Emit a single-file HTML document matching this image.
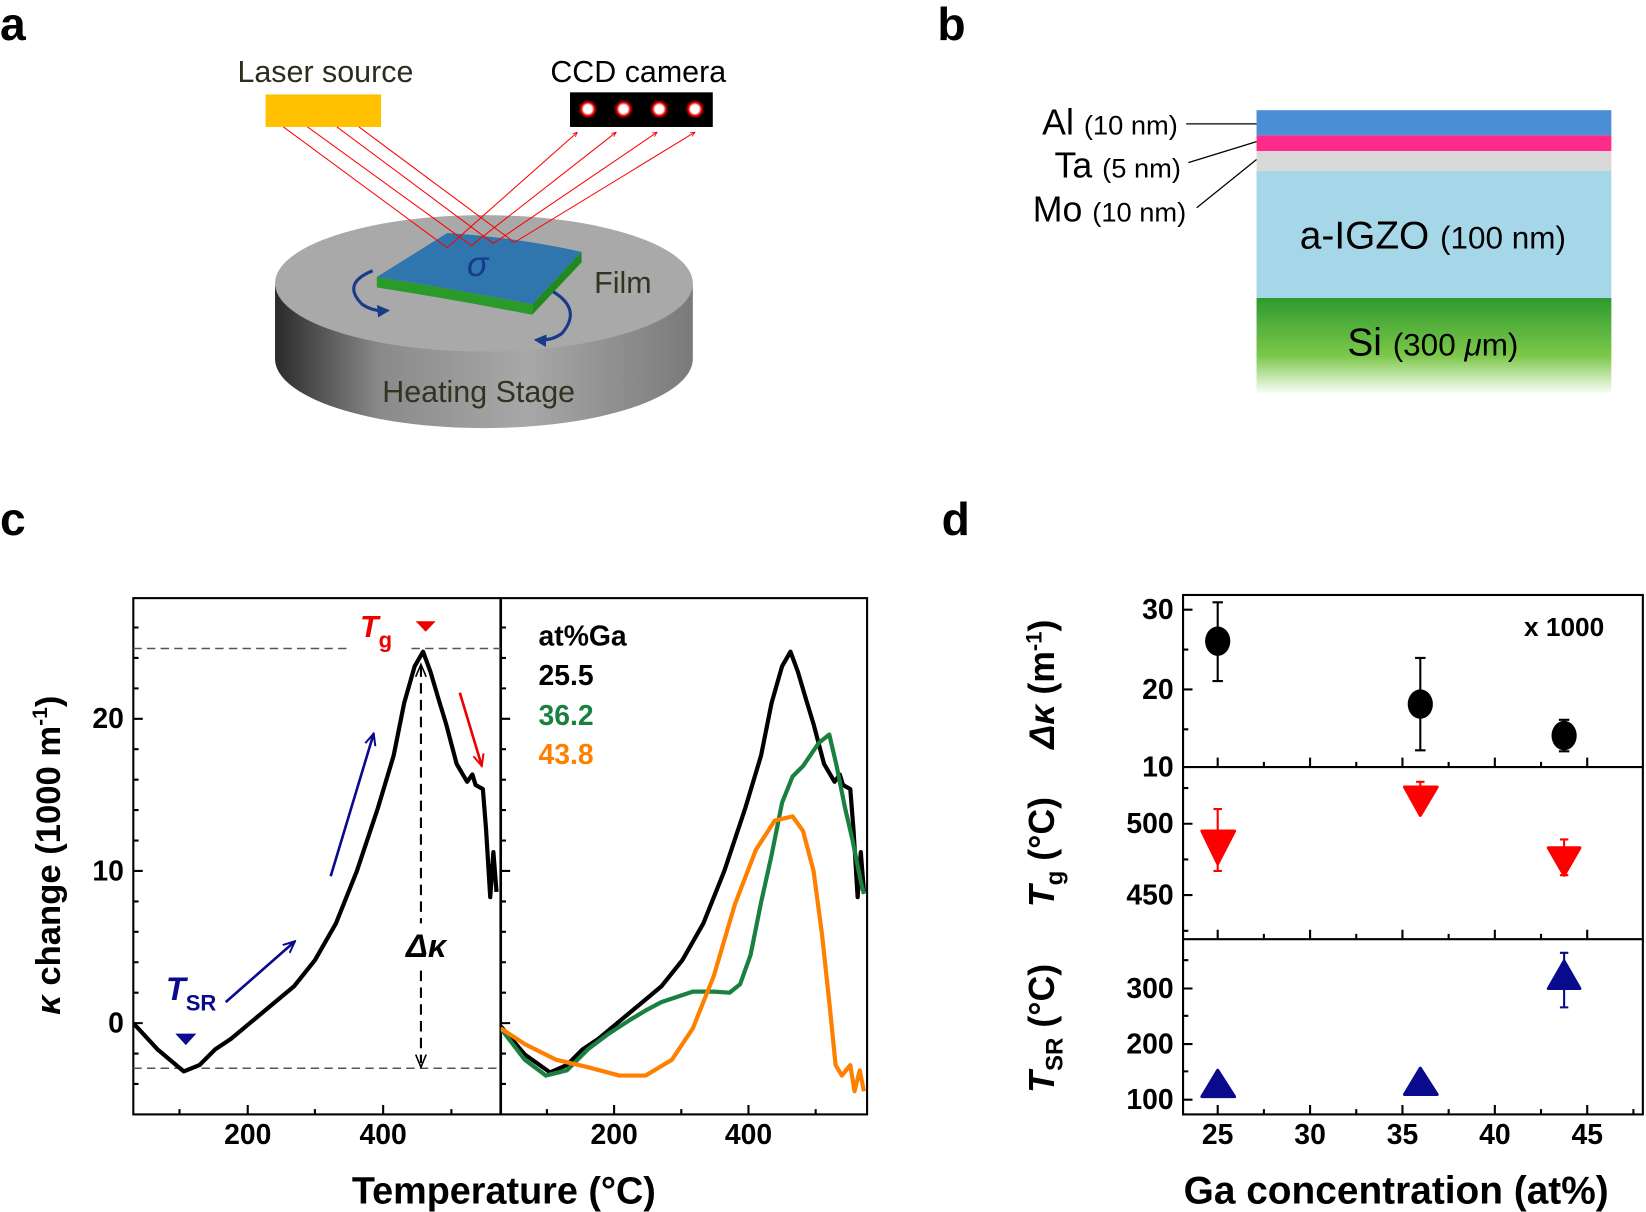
<!DOCTYPE html>
<html><head><meta charset="utf-8"><style>
html,body{margin:0;padding:0;background:#fff;}
svg{display:block;}
text{font-family:"Liberation Sans",Arial,sans-serif;}
.b{font-weight:bold;}
</style></head><body>
<svg width="1646" height="1212" viewBox="0 0 1568 1155" preserveAspectRatio="none" xmlns="http://www.w3.org/2000/svg">
<defs>
<linearGradient id="side" x1="0" x2="1" y1="0" y2="0">
<stop offset="0" stop-color="#2a2a2a"/><stop offset="0.25" stop-color="#8a8a8a"/><stop offset="0.6" stop-color="#a8a8a8"/><stop offset="1" stop-color="#7a7a7a"/></linearGradient>
<linearGradient id="si" x1="0" x2="0" y1="0" y2="1">
<stop offset="0" stop-color="#2f9a2f"/><stop offset="0.6" stop-color="#7cc84a"/><stop offset="1" stop-color="#ffffff"/></linearGradient>
<radialGradient id="dot"><stop offset="0.45" stop-color="#fff"/><stop offset="0.7" stop-color="#e00"/><stop offset="1" stop-color="#000"/></radialGradient>
<marker id="arR" viewBox="0 0 10 10" refX="9" refY="5" markerWidth="5" markerHeight="5" orient="auto"><path d="M0,1 L9,5 L0,9" fill="none" stroke="#e00" stroke-width="1.5"/></marker>
<marker id="arB" viewBox="0 0 10 10" refX="9" refY="5" markerWidth="5" markerHeight="5" orient="auto"><path d="M0,1 L9,5 L0,9" fill="none" stroke="#0a0a8c" stroke-width="1.5"/></marker>
<marker id="arN" viewBox="0 0 10 10" refX="7" refY="5" markerWidth="4" markerHeight="4" orient="auto"><path d="M0,0 L10,5 L0,10 z" fill="#1a3a8a"/></marker>
</defs>

<text x="0" y="38" font-size="44" class="b">a</text>
<text x="893" y="38" font-size="44" class="b">b</text>
<text x="0" y="510" font-size="44" class="b">c</text>
<text x="897" y="510" font-size="44" class="b">d</text>

<!-- panel a -->
<text x="310" y="78" font-size="29" fill="#2d2d1e" text-anchor="middle">Laser source</text>
<text x="608" y="78" font-size="29" fill="#000" text-anchor="middle">CCD camera</text>
<rect x="253" y="90" width="110" height="31" fill="#FFC000"/>
<rect x="543" y="88" width="136" height="33" fill="#000"/>
<circle cx="560" cy="104" r="9" fill="url(#dot)"/><circle cx="594" cy="104" r="9" fill="url(#dot)"/>
<circle cx="628" cy="104" r="9" fill="url(#dot)"/><circle cx="662" cy="104" r="9" fill="url(#dot)"/>
<path d="M262,272 L262,342 A199,66 0 0 0 660,342 L660,272 Z" fill="url(#side)"/>
<ellipse cx="461" cy="270" rx="199" ry="65" fill="#a9a9a9"/>
<text x="456" y="383" font-size="29" fill="#333322" text-anchor="middle">Heating Stage</text>
<path d="M359,264 Q430,275 507,290 L507,300 Q430,285 359,274 Z" fill="#2a9a2a"/>
<path d="M507,290 L554,240 L554,250 L507,300 Z" fill="#1f8a1f"/>
<path d="M359,264 L426,222 Q490,226 554,240 L507,290 Q430,275 359,264 Z" fill="#2f76ae"/>
<text x="455" y="263" font-size="34" font-style="italic" fill="#1a3a8a" text-anchor="middle">σ</text>
<path d="M355,258 Q325,270 345,290 Q355,297 368,296" fill="none" stroke="#1a3a8a" stroke-width="3" marker-end="url(#arN)"/>
<path d="M527,278 Q555,295 535,318 Q525,325 512,324" fill="none" stroke="#1a3a8a" stroke-width="3" marker-end="url(#arN)"/>
<text x="566" y="279" font-size="29" fill="#333322">Film</text>
<g stroke="#f00" stroke-width="1" fill="none">
<path d="M270,121 L426,236 L550,126" marker-end="url(#arR)"/>
<path d="M293,121 L449,234 L587,126" marker-end="url(#arR)"/>
<path d="M321,121 L470,232 L626,126" marker-end="url(#arR)"/>
<path d="M342,121 L490,231 L662,126" marker-end="url(#arR)"/>
</g>

<!-- panel b -->
<rect x="1197" y="105" width="338" height="24" fill="#4a8fd6"/>
<rect x="1197" y="129" width="338" height="15" fill="#ff2a8a"/>
<rect x="1197" y="144" width="338" height="19" fill="#d9d9d9"/>
<rect x="1197" y="163" width="338" height="121" fill="#a6d7e8"/>
<rect x="1197" y="284" width="338" height="92" fill="url(#si)"/>
<g stroke="#000" stroke-width="1.2"><line x1="1130" y1="118" x2="1197" y2="118"/><line x1="1132" y1="155" x2="1197" y2="135"/><line x1="1140" y1="198" x2="1197" y2="152"/></g>
<text x="1122" y="128" text-anchor="end" font-size="34">Al <tspan font-size="26">(10 nm)</tspan></text>
<text x="1125" y="169" text-anchor="end" font-size="34">Ta <tspan font-size="26">(5 nm)</tspan></text>
<text x="1130" y="211" text-anchor="end" font-size="34">Mo <tspan font-size="26">(10 nm)</tspan></text>
<text x="1365" y="237" text-anchor="middle" font-size="37">a-IGZO <tspan font-size="30">(100 nm)</tspan></text>
<text x="1365" y="339" text-anchor="middle" font-size="37">Si <tspan font-size="30">(300 <tspan font-style="italic">μ</tspan>m)</tspan></text>

<!-- panel c -->
<g stroke="#000" stroke-width="2" fill="none">
<rect x="127" y="570" width="699" height="492"/>
<line x1="477" y1="570" x2="477" y2="1062" stroke-width="2.5"/>
</g>
<g stroke="#000" stroke-width="2">
<path d="M127,975h9M127,830h9M127,685h9M477,975h9M477,830h9M477,685h9"/>
<path d="M127,1033h5M127,1004h5M127,946h5M127,917h5M127,888h5M127,859h5M127,801h5M127,772h5M127,743h5M127,714h5M127,656h5M127,627h5M127,598h5
M477,1033h5M477,1004h5M477,946h5M477,917h5M477,888h5M477,859h5M477,801h5M477,772h5M477,743h5M477,714h5M477,656h5M477,627h5M477,598h5"/>
<path d="M236,1062v-9M365,1062v-9M585,1062v-9M713,1062v-9M171,1062v-5M300,1062v-5M430,1062v-5M521,1062v-5M649,1062v-5M777,1062v-5"/>
</g>
<g font-size="27" class="b" text-anchor="end"><text x="118" y="984">0</text><text x="118" y="839">10</text><text x="118" y="694">20</text></g>
<g font-size="27" class="b" text-anchor="middle"><text x="236" y="1090">200</text><text x="365" y="1090">400</text><text x="585" y="1090">200</text><text x="713" y="1090">400</text></g>
<text x="480" y="1147" font-size="36" class="b" text-anchor="middle">Temperature (°C)</text>
<text transform="translate(57,815) rotate(-90)" font-size="33" class="b" text-anchor="middle"><tspan font-style="italic">κ</tspan> change (1000 m<tspan font-size="20" dy="-12">-1</tspan><tspan dy="12">)</tspan></text>
<g stroke="#555" stroke-width="1.5" stroke-dasharray="8,5" fill="none">
<path d="M127,618H330M392,618H477M127,1018H477"/>
</g>
<path d="M401,635V880M401,925V1013" stroke="#000" stroke-width="2" stroke-dasharray="10,6" fill="none"/>
<path d="M396,645L401,633L406,645M396,1005L401,1017L406,1005" stroke="#000" stroke-width="1.5" fill="none"/>
<text x="406" y="912" font-size="31" class="b" font-style="italic" text-anchor="middle">Δκ</text>
<line x1="215" y1="955" x2="281" y2="897" stroke="#0a0a8c" stroke-width="2.5" marker-end="url(#arB)"/>
<line x1="315" y1="835" x2="356" y2="699" stroke="#0a0a8c" stroke-width="2.5" marker-end="url(#arB)"/>
<line x1="438" y1="660" x2="459" y2="730" stroke="#e00" stroke-width="2.5" marker-end="url(#arR)"/>
<path d="M396,592 L415,592 L405.5,602 Z" fill="#e00"/>
<path d="M167,985 L187,985 L177,996 Z" fill="#0a0a8c"/>
<text x="343" y="607" font-size="29" class="b" font-style="italic" fill="#e00">T<tspan font-size="21" font-style="normal" dy="10">g</tspan></text>
<text x="158" y="953" font-size="31" class="b" font-style="italic" fill="#0a0a8c">T<tspan font-size="21" font-style="normal" dy="10">SR</tspan></text>
<defs><clipPath id="cl"><rect x="127" y="570" width="350" height="492"/></clipPath><clipPath id="cr"><rect x="477" y="570" width="349" height="492"/></clipPath></defs>
<path d="M127,975 L150,1000 L175,1021 L190,1015 L205,1000 L220,990 L250,965 L280,940 L300,915 L320,880 L340,830 L360,770 L375,720 L385,670 L395,635 L403,621 L410,640 L418,667 L425,690 L435,728 L445,745 L450,738 L453,748 L460,752 L463,790 L467,855 L470,812 L473,850" fill="none" stroke="#000" stroke-width="4" stroke-linejoin="round" clip-path="url(#cl)"/>
<g clip-path="url(#cr)" fill="none" stroke-width="4" stroke-linejoin="round">
<path d="M477,978 L500,1005 L524,1022 L540,1015 L555,1000 L570,990 L600,965 L630,940 L650,915 L670,880 L690,830 L710,770 L725,720 L735,670 L745,635 L753,621 L760,640 L768,667 L775,690 L785,728 L795,745 L800,738 L803,748 L810,752 L813,790 L817,855 L820,812 L823,850" stroke="#000"/>
<path d="M477,980 L500,1010 L520,1025 L540,1020 L560,1000 L580,985 L600,972 L615,963 L630,955 L645,950 L660,945 L680,945 L695,946 L705,938 L715,910 L725,860 L735,815 L745,765 L755,740 L765,730 L780,708 L790,700 L797,730 L805,770 L812,800 L820,840 L823,852" stroke="#1a8040"/>
<path d="M477,980 L500,995 L530,1010 L560,1017 L590,1025 L615,1025 L640,1010 L660,980 L680,930 L700,862 L720,810 L738,782 L755,778 L765,792 L775,830 L783,890 L790,955 L796,1015 L802,1025 L810,1015 L814,1040 L819,1020 L823,1040" stroke="#ff8000"/>
</g>
<g font-size="27" class="b"><text x="513" y="615">at%Ga</text><text x="513" y="653">25.5</text><text x="513" y="691" fill="#1a8040">36.2</text><text x="513" y="728" fill="#ff8000">43.8</text></g>

<!-- panel d -->
<g stroke="#000" stroke-width="2" fill="none">
<rect x="1127" y="567" width="438" height="495"/>
<line x1="1127" y1="731" x2="1565" y2="731"/><line x1="1127" y1="895" x2="1565" y2="895"/>
</g>
<g stroke="#000" stroke-width="2">
<path d="M1127,581h9M1127,657h9M1127,785h9M1127,853h9M1127,942h9M1127,995h9M1127,1048h9"/>
<path d="M1127,619h5M1127,695h5M1127,751h5M1127,819h5M1127,887h5M1127,915h5M1127,968h5M1127,1021h5"/>
<path d="M1160,1062v-9M1248,1062v-9M1336,1062v-9M1424,1062v-9M1512,1062v-9M1204,1062v-5M1292,1062v-5M1380,1062v-5M1468,1062v-5M1556,1062v-5
M1160,731v-9M1248,731v-9M1336,731v-9M1424,731v-9M1512,731v-9M1204,731v-5M1292,731v-5M1380,731v-5M1468,731v-5
M1160,895v-9M1248,895v-9M1336,895v-9M1424,895v-9M1512,895v-9M1204,895v-5M1292,895v-5M1380,895v-5M1468,895v-5"/>
</g>
<g font-size="27" class="b" text-anchor="end">
<text x="1118" y="590">30</text><text x="1118" y="666">20</text><text x="1118" y="740">10</text>
<text x="1118" y="794">500</text><text x="1118" y="862">450</text>
<text x="1118" y="951">300</text><text x="1118" y="1004">200</text><text x="1118" y="1057">100</text>
</g>
<g font-size="27" class="b" text-anchor="middle">
<text x="1160" y="1090">25</text><text x="1248" y="1090">30</text><text x="1336" y="1090">35</text><text x="1424" y="1090">40</text><text x="1512" y="1090">45</text>
</g>
<text x="1330" y="1147" font-size="37" class="b" text-anchor="middle">Ga concentration (at%)</text>
<text x="1490" y="606" font-size="25" class="b" text-anchor="middle">x 1000</text>
<text transform="translate(1004,652) rotate(-90)" font-size="34" class="b" text-anchor="middle"><tspan font-style="italic">Δκ</tspan> (m<tspan font-size="21" dy="-12">-1</tspan><tspan dy="12">)</tspan></text>
<text transform="translate(1004,812) rotate(-90)" font-size="34" class="b" text-anchor="middle"><tspan font-style="italic">T</tspan><tspan font-size="23" dy="8">g</tspan><tspan dy="-8"> (°C)</tspan></text>
<text transform="translate(1004,980) rotate(-90)" font-size="34" class="b" text-anchor="middle"><tspan font-style="italic">T</tspan><tspan font-size="23" dy="8">SR</tspan><tspan dy="-8"> (°C)</tspan></text>
<g stroke="#000" stroke-width="2">
<path d="M1160,574V649M1155,574h10M1155,649h10M1353,627V715M1348,627h10M1348,715h10M1490,686V716M1485,686h10M1485,716h10"/>
</g>
<ellipse cx="1160" cy="611" rx="12" ry="14" fill="#000"/>
<ellipse cx="1353" cy="671" rx="12" ry="14" fill="#000"/>
<ellipse cx="1490" cy="701" rx="12" ry="14" fill="#000"/>
<g stroke="#f00" stroke-width="2">
<path d="M1160,771V830M1156,771h8M1156,830h8M1353,745V752M1349,745h8M1490,800V834M1486,800h8M1486,834h8"/>
</g>
<path d="M1145,792 L1176,792 L1160,823 Z" fill="#f00" stroke="#f00" stroke-width="3" stroke-linejoin="round"/>
<path d="M1338,750 L1369,750 L1353,777 Z" fill="#f00" stroke="#f00" stroke-width="3" stroke-linejoin="round"/>
<path d="M1475,808 L1505,808 L1490,834 Z" fill="#f00" stroke="#f00" stroke-width="3" stroke-linejoin="round"/>
<g stroke="#0a0a8c" stroke-width="2"><path d="M1490,908V960M1486,908h8M1486,960h8"/></g>
<path d="M1145,1045 L1176,1045 L1160,1020 Z" fill="#0a0a8c" stroke="#0a0a8c" stroke-width="3" stroke-linejoin="round"/>
<path d="M1338,1043 L1369,1043 L1353,1018 Z" fill="#0a0a8c" stroke="#0a0a8c" stroke-width="3" stroke-linejoin="round"/>
<path d="M1475,942 L1505,942 L1490,916 Z" fill="#0a0a8c" stroke="#0a0a8c" stroke-width="3" stroke-linejoin="round"/>
</svg>
</body></html>
